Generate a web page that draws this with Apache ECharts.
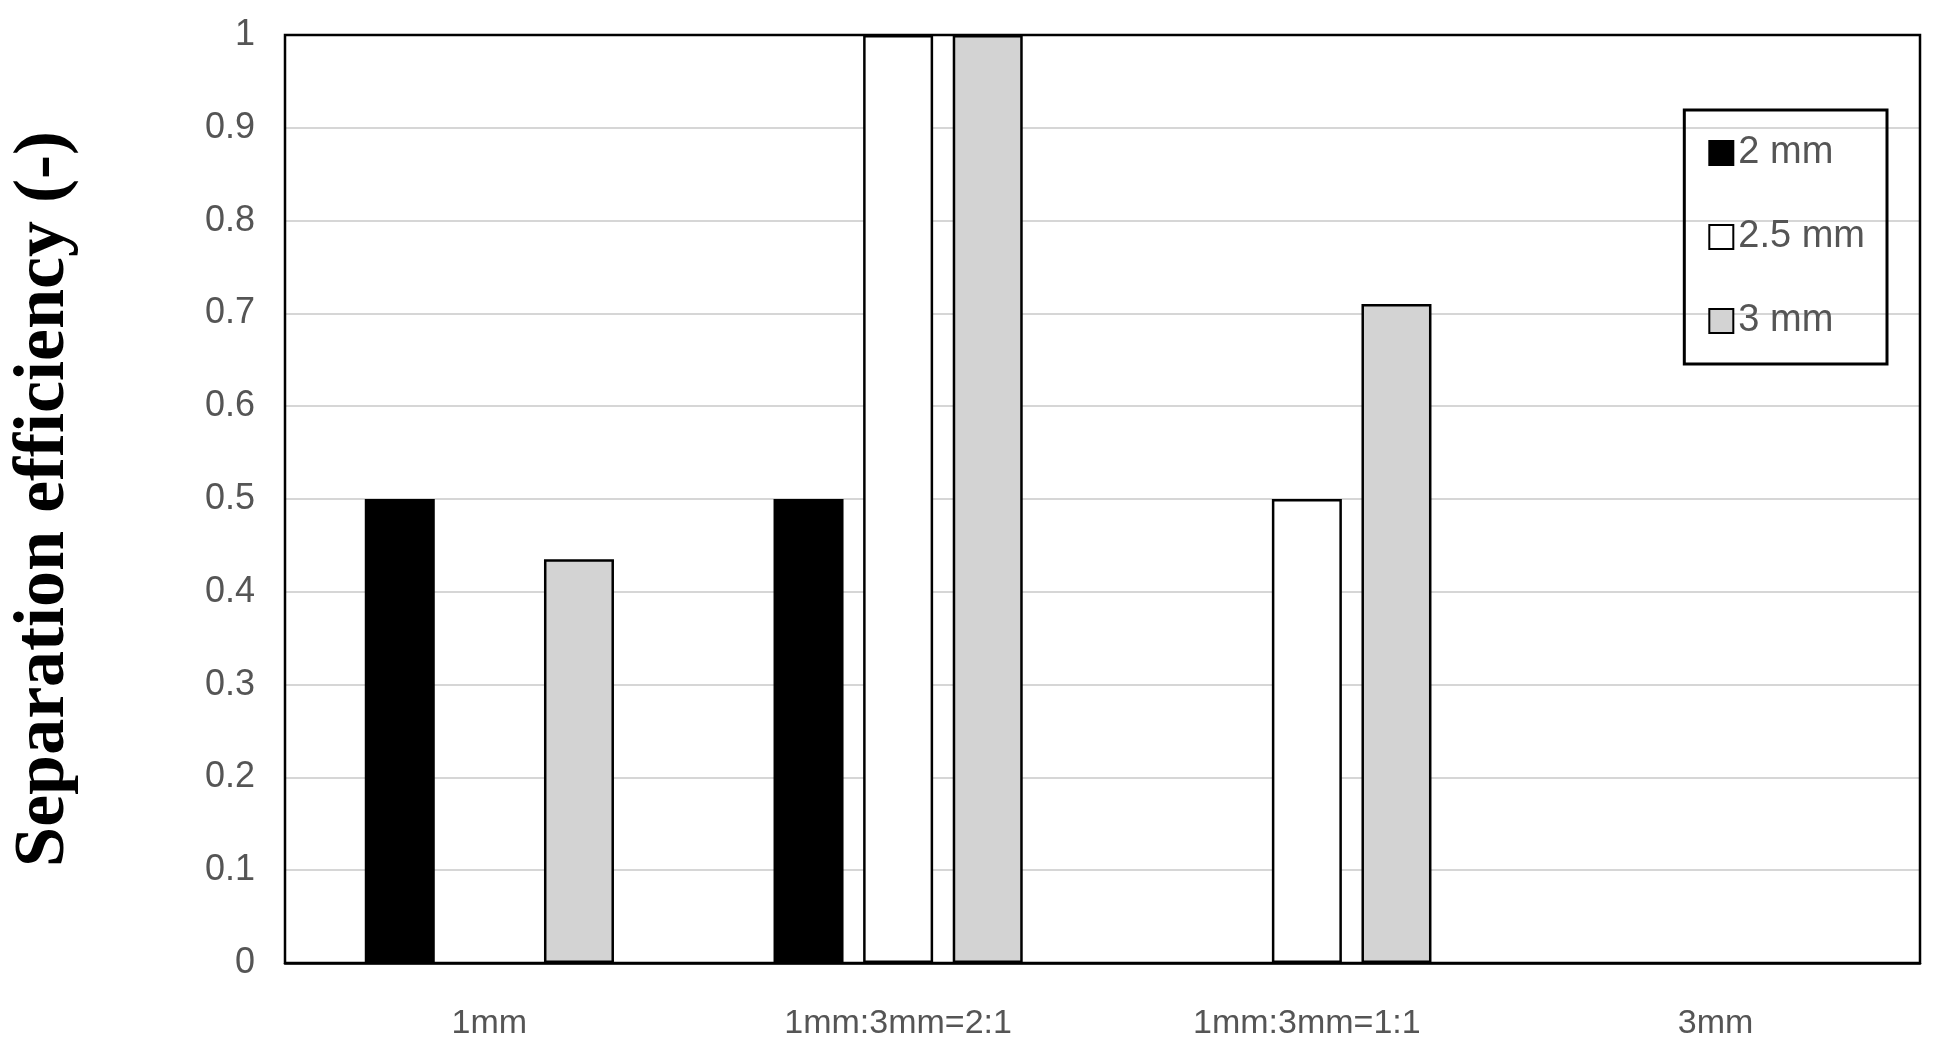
<!DOCTYPE html>
<html><head><meta charset="utf-8">
<script src="https://cdn.jsdelivr.net/npm/echarts@6/dist/echarts.min.js"></script>
<style>html,body{margin:0;padding:0;background:#fff}#c{width:1939px;height:1055px}</style>
</head><body><div id="c"></div>
<script>
const categories = ['1mm', '1mm:3mm=2:1', '1mm:3mm=1:1', '3mm'];
const s2mm = [0.5, 0.5, null, null];
const s25mm = [null, 1, 0.5, null];
const s3mm = [0.435, 1, 0.71, null];
const yTicks = [0, 0.1, 0.2, 0.3, 0.4, 0.5, 0.6, 0.7, 0.8, 0.9, 1];
const font = '"Liberation Sans Narrow", "Liberation Sans", sans-serif';
const chart = echarts.init(document.getElementById('c'));
const mk = (name, data, color) => ({
  name, type: 'bar', data, barWidth: 70, barGap: '28%',
  itemStyle: {color, borderColor: '#000', borderWidth: 2.5}
});
chart.setOption({
  animation: false,
  grid: {left: 273, right: 19, top: 35, bottom: 92, show: true, borderColor: '#000', borderWidth: 2.5, z: 5},
  legend: {
    right: 52, top: 110, orient: 'vertical', itemGap: 46, padding: [24, 22, 24, 24],
    borderColor: '#000', borderWidth: 3, itemWidth: 24, itemHeight: 24,
    textStyle: {fontFamily: font, fontSize: 38, color: '#555'},
    data: [{name: '2 mm', icon: 'rect'}, {name: '2.5 mm', icon: 'rect'}, {name: '3 mm', icon: 'rect'}]
  },
  xAxis: {
    type: 'category', data: categories,
    axisLine: {lineStyle: {color: '#000', width: 2.5}}, axisTick: {show: false},
    axisLabel: {fontFamily: font, fontSize: 34, color: '#555', margin: 44}
  },
  yAxis: {
    type: 'value', min: 0, max: 1, interval: 0.1,
    name: 'Separation efficiency (-)', nameLocation: 'middle', nameGap: 205,
    nameTextStyle: {fontFamily: '"Liberation Serif", "Times New Roman", serif', fontWeight: 'bold', fontSize: 72, color: '#000'},
    axisLine: {show: false}, axisTick: {show: false},
    splitLine: {lineStyle: {color: '#d6d6d6', width: 2}},
    axisLabel: {fontFamily: font, fontSize: 36, color: '#555', margin: 30,
      formatter: v => { const t = yTicks.find(x => Math.abs(x - v) < 1e-9); return t === undefined ? '' : String(t); }}
  },
  series: [mk('2 mm', s2mm, '#000'), mk('2.5 mm', s25mm, '#fff'), mk('3 mm', s3mm, '#d3d3d3')]
});
</script></body></html>
